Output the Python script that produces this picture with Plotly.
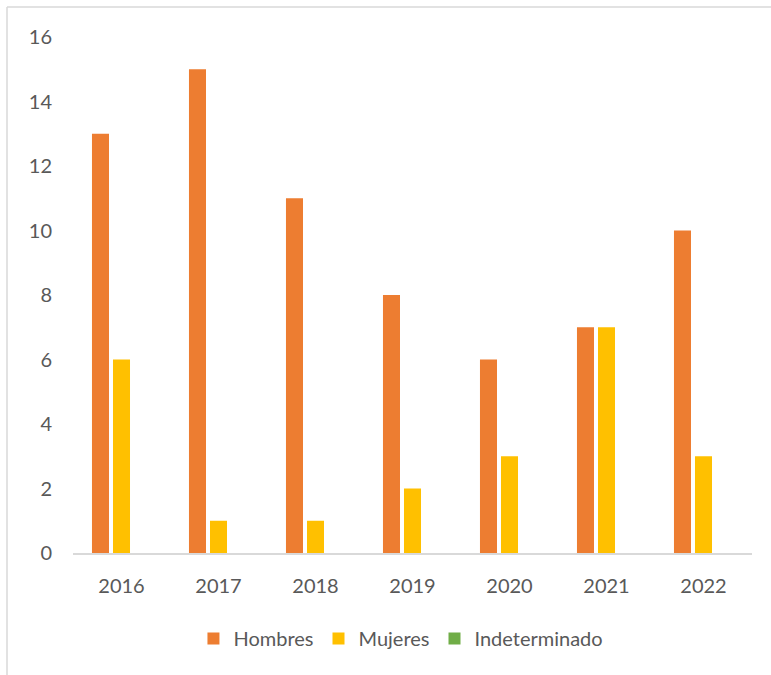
import plotly.graph_objects as go

years = ["2016", "2017", "2018", "2019", "2020", "2021", "2022"]
hombres = [13, 15, 11, 8, 6, 7, 10]
mujeres = [6, 1, 1, 2, 3, 7, 3]
indeterminado = [0, 0, 0, 0, 0, 0, 0]

series = [
    ("Hombres", hombres, "#ED7D31"),
    ("Mujeres", mujeres, "#FFC000"),
    ("Indeterminado", indeterminado, "#70AD47"),
]

fig = go.Figure()
for name, vals, color in series:
    fig.add_trace(go.Bar(
        x=years, y=vals, name=name,
        marker=dict(color=color, line=dict(width=0)),
    ))

text_color = "#595959"
fig.update_layout(
    width=771, height=675,
    margin=dict(l=73, r=19, t=37, b=122),
    paper_bgcolor="white", plot_bgcolor="white",
    barmode="group", bargap=0.35, bargroupgap=0.19,
    font=dict(family="Lato, 'Open Sans', sans-serif", size=20, color=text_color),
    showlegend=True,
    legend=dict(
        orientation="h", x=0.483, xanchor="center", y=-0.128, yanchor="top",
        font=dict(size=20, color=text_color), itemwidth=30,
        traceorder="normal",
    ),
    xaxis=dict(
        type="category", showgrid=False, showline=True,
        linecolor="#D9D9D9", linewidth=1.5, ticks="", ticklabelstandoff=14,
        tickfont=dict(size=20, color=text_color),
    ),
    yaxis=dict(
        range=[0, 16], dtick=2, showgrid=False, zeroline=False,
        showline=False, ticks="", ticklabelstandoff=20,
        tickfont=dict(size=20, color=text_color),
    ),
    shapes=[
        dict(type="line", xref="paper", yref="paper",
             x0=-0.0972, x1=1.1, y0=1.058, y1=1.058,
             line=dict(color="#D9D9D9", width=1.5)),
        dict(type="line", xref="paper", yref="paper",
             x0=-0.0972, x1=-0.0972, y0=1.058, y1=-0.3,
             line=dict(color="#D9D9D9", width=1.5)),
    ],
)

fig.write_html("out.html")
